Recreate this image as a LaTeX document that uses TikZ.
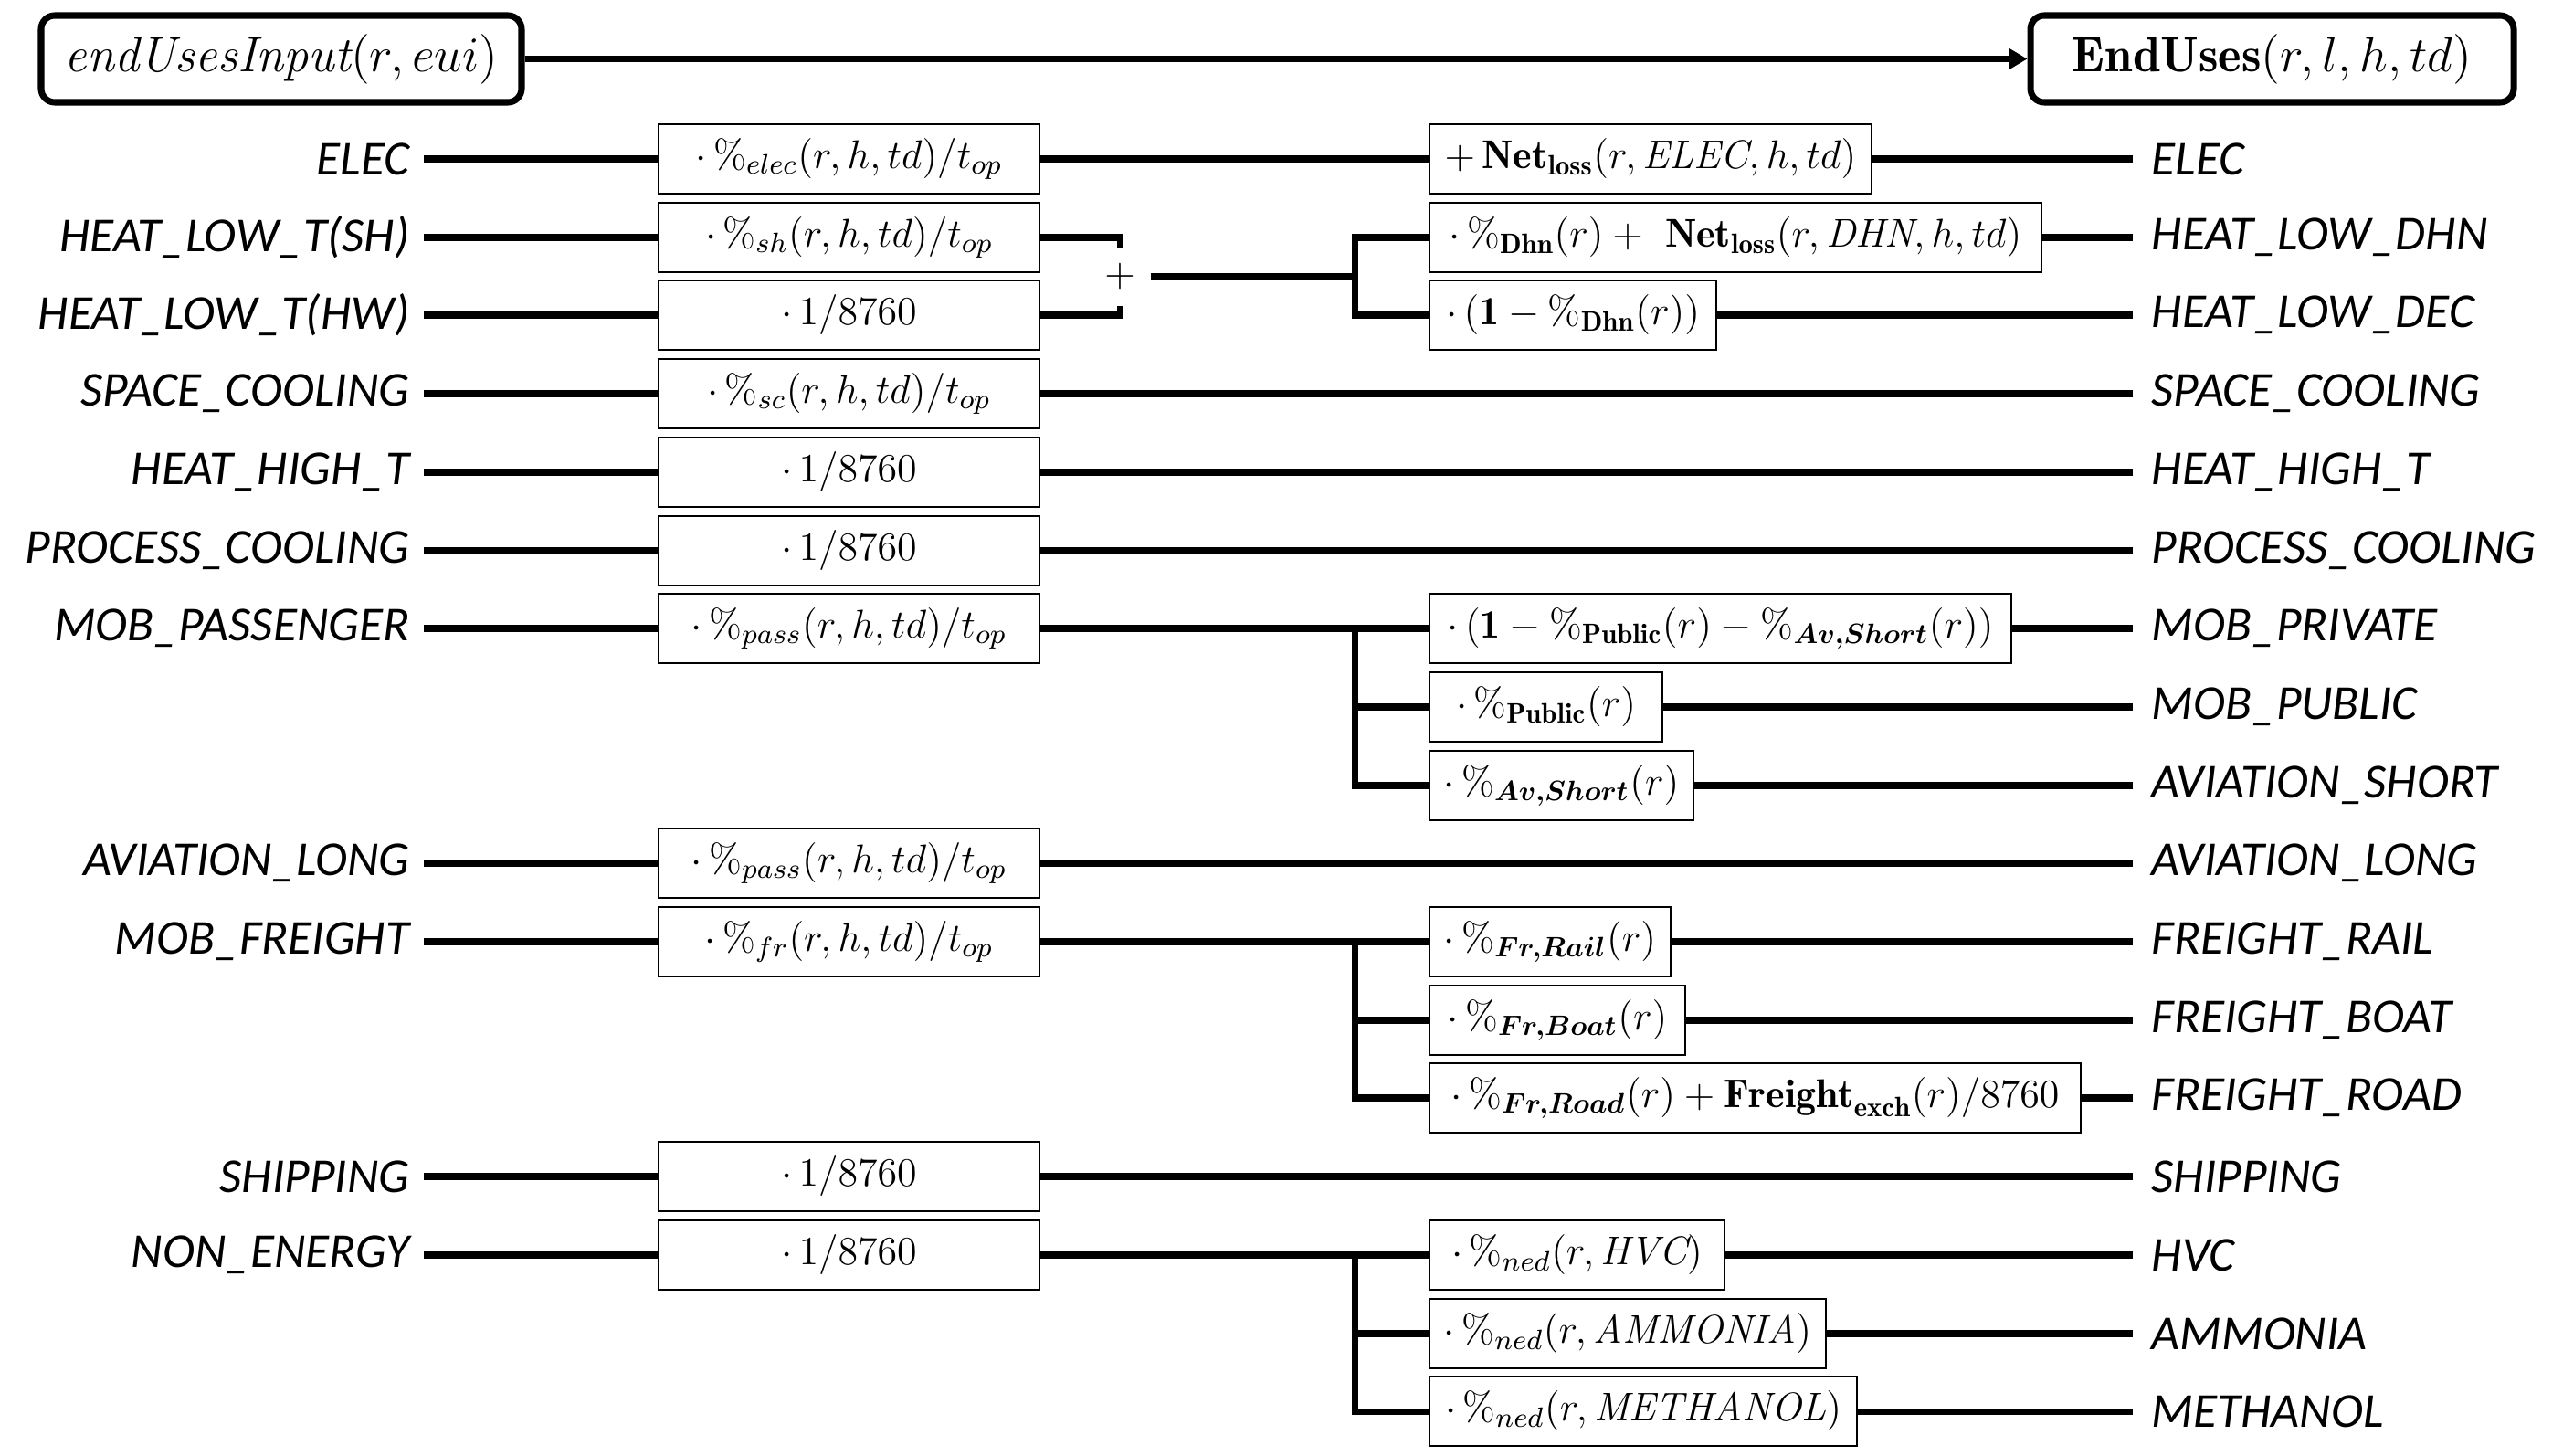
\RequirePackage{fix-cm}
\documentclass[tikz,border=0pt]{standalone}
\usepackage{amsmath,amssymb}
\usepackage{fontspec}
\newfontfamily\lblfont{Carlito}
\usetikzlibrary{arrows.meta}
\newcommand{\fdot}{{\cdot}\,}
\begin{document}
\begin{tikzpicture}
	\tikzset{
		lbl/.style={font=\lblfont\itshape\fontsize{15.2}{18}\selectfont, inner xsep=0.15cm, inner ysep=0pt},
		lbll/.style={lbl, anchor=east},
		lblr/.style={lbl, anchor=west, inner xsep=0.2cm},
		fac/.style={draw, line width=0.6pt, minimum height=0.76cm, inner xsep=0.2cm, font=\fontsize{12.5}{15}\selectfont},
		facm/.style={fac, minimum width=4.17cm},
		facs/.style={fac, anchor=west, inner xsep=0.13cm},
		var/.style={draw, line width=2pt, rounded corners=0.15cm, minimum height=0.95cm, font=\fontsize{15.5}{18}\selectfont},
		lnk/.style={line width=2pt}
	}
	\useasboundingbox (0,0) rectangle (28.06,-15.94);
	\path
	(3.08,-0.645) node[var, minimum width=5.26cm](in){$\mathit{endUsesInput}(r,eui)$}
	(24.875,-0.645) node[var, minimum width=5.29cm](out){$\mathbf{EndUses}(r,l,h,td)$}
	;
	\draw[lnk,-{Triangle[length=0.2cm,width=0.22cm]}] (in) -- (out);
	\path
	(4.64,-1.74) node[lbll](l1){ELEC}
	(4.64,-2.60) node[lbll](l2){HEAT\_LOW\_T(SH)}
	(4.64,-3.45) node[lbll](l3){HEAT\_LOW\_T(HW)}
	(4.64,-4.31) node[lbll](l4){SPACE\_COOLING}
	(4.64,-5.17) node[lbll](l5){HEAT\_HIGH\_T}
	(4.64,-6.03) node[lbll](l6){PROCESS\_COOLING}
	(4.64,-6.88) node[lbll](l7){MOB\_PASSENGER}
	(4.64,-9.45) node[lbll](l10){AVIATION\_LONG}
	(4.64,-10.31) node[lbll](l11){MOB\_FREIGHT}
	(4.64,-12.88) node[lbll](l14){SHIPPING}
	(4.64,-13.74) node[lbll](l15){NON\_ENERGY}
	;
	\path
	(9.295,-1.74) node[facm](m1){$\fdot\%_{elec}(r,h,td)/t_{op}$}
	(9.295,-2.60) node[facm](m2){$\fdot\%_{sh}(r,h,td)/t_{op}$}
	(9.295,-3.45) node[facm](m3){$\fdot 1/8760$}
	(9.295,-4.31) node[facm](m4){$\fdot\%_{sc}(r,h,td)/t_{op}$}
	(9.295,-5.17) node[facm](m5){$\fdot 1/8760$}
	(9.295,-6.03) node[facm](m6){$\fdot 1/8760$}
	(9.295,-6.88) node[facm](m7){$\fdot\%_{pass}(r,h,td)/t_{op}$}
	(9.295,-9.45) node[facm](m10){$\fdot\%_{pass}(r,h,td)/t_{op}$}
	(9.295,-10.31) node[facm](m11){$\fdot\%_{fr}(r,h,td)/t_{op}$}
	(9.295,-12.88) node[facm](m14){$\fdot 1/8760$}
	(9.295,-13.74) node[facm](m15){$\fdot 1/8760$}
	;
	\path
	(15.64,-1.74) node[facs, minimum width=4.84cm](s1){$+\,\mathbf{Net}_{\mathbf{loss}}(r,\mathit{ELEC},h,td)$}
	(15.64,-2.60) node[facs, minimum width=6.70cm](s2){$\fdot\%_{\mathbf{Dhn}}(r)+\ \mathbf{Net}_{\mathbf{loss}}(r,\mathit{DHN},h,td)$}
	(15.64,-3.45) node[facs, minimum width=3.14cm](s3){$\fdot(\mathbf{1}-\%_{\mathbf{Dhn}}(r))$}
	(15.64,-6.88) node[facs, minimum width=6.37cm](s7){$\fdot(\mathbf{1}-\%_{\mathbf{Public}}(r)-\%_{\boldsymbol{Av,Short}}(r))$}
	(15.64,-7.74) node[facs, minimum width=2.55cm](s8){$\fdot\%_{\mathbf{Public}}(r)$}
	(15.64,-8.60) node[facs, minimum width=2.89cm](s9){$\fdot\%_{\boldsymbol{Av,Short}}(r)$}
	(15.64,-10.31) node[facs, minimum width=2.64cm](s11){$\fdot\%_{\boldsymbol{Fr,Rail}}(r)$}
	(15.64,-11.17) node[facs, minimum width=2.80cm](s12){$\fdot\%_{\boldsymbol{Fr,Boat}}(r)$}
	(15.64,-12.02) node[facs, minimum width=7.13cm](s13){$\fdot\%_{\boldsymbol{Fr,Road}}(r)+\mathbf{Freight}_{\mathbf{exch}}(r)/8760$}
	(15.64,-13.74) node[facs, minimum width=3.23cm](s15){$\fdot\%_{ned}(r,\mathit{HVC})$}
	(15.64,-14.60) node[facs, minimum width=4.34cm](s16){$\fdot\%_{ned}(r,\mathit{AMMONIA})$}
	(15.64,-15.45) node[facs, minimum width=4.68cm](s17){$\fdot\%_{ned}(r,\mathit{METHANOL})$}
	;
	\path
	(23.35,-1.74) node[lblr](r1){ELEC}
	(23.35,-2.60) node[lblr](r2){HEAT\_LOW\_DHN}
	(23.35,-3.45) node[lblr](r3){HEAT\_LOW\_DEC}
	(23.35,-4.31) node[lblr](r4){SPACE\_COOLING}
	(23.35,-5.17) node[lblr](r5){HEAT\_HIGH\_T}
	(23.35,-6.03) node[lblr](r6){PROCESS\_COOLING}
	(23.35,-6.88) node[lblr](r7){MOB\_PRIVATE}
	(23.35,-7.74) node[lblr](r8){MOB\_PUBLIC}
	(23.35,-8.60) node[lblr](r9){AVIATION\_SHORT}
	(23.35,-9.45) node[lblr](r10){AVIATION\_LONG}
	(23.35,-10.31) node[lblr](r11){FREIGHT\_RAIL}
	(23.35,-11.17) node[lblr](r12){FREIGHT\_BOAT}
	(23.35,-12.02) node[lblr](r13){FREIGHT\_ROAD}
	(23.35,-12.88) node[lblr](r14){SHIPPING}
	(23.35,-13.74) node[lblr](r15){HVC}
	(23.35,-14.60) node[lblr](r16){AMMONIA}
	(23.35,-15.45) node[lblr](r17){METHANOL}
	;
	\path
	(12.26,-3.03) node[minimum width=0.66cm, minimum height=0.63cm, inner sep=0pt, font=\fontsize{12.5}{15}\selectfont](plus){$+$}
	;
	\coordinate (hb) at (14.83,-3.03);
	\coordinate (pb) at (14.83,-6.88);
	\coordinate (fb) at (14.83,-10.31);
	\coordinate (nb) at (14.83,-13.74);
	\draw[lnk]
	(l1)--(m1) (l2)--(m2) (l3)--(m3) (l4)--(m4) (l5)--(m5) (l6)--(m6)
	(l7)--(m7) (l10)--(m10) (l11)--(m11) (l14)--(m14) (l15)--(m15)
	(m1)--(s1) (s1)--(r1)
	(m4)--(r4) (m5)--(r5) (m6)--(r6) (m10)--(r10) (m14)--(r14)
	(m2.east) -| (plus.north) (m3.east) -| (plus.south)
	(plus)--(hb) (s2.west) -| (hb) |- (s3.west) (s2)--(r2) (s3)--(r3)
	(m7)--(s7) (pb) |- (s9.west) (pb |- s8)--(s8) (s7)--(r7) (s8)--(r8) (s9)--(r9)
	(m11)--(s11) (fb) |- (s13.west) (fb |- s12)--(s12) (s11)--(r11) (s12)--(r12) (s13)--(r13)
	(m15)--(s15) (nb) |- (s17.west) (nb |- s16)--(s16) (s15)--(r15) (s16)--(r16) (s17)--(r17)
	;
\end{tikzpicture}
\end{document}
